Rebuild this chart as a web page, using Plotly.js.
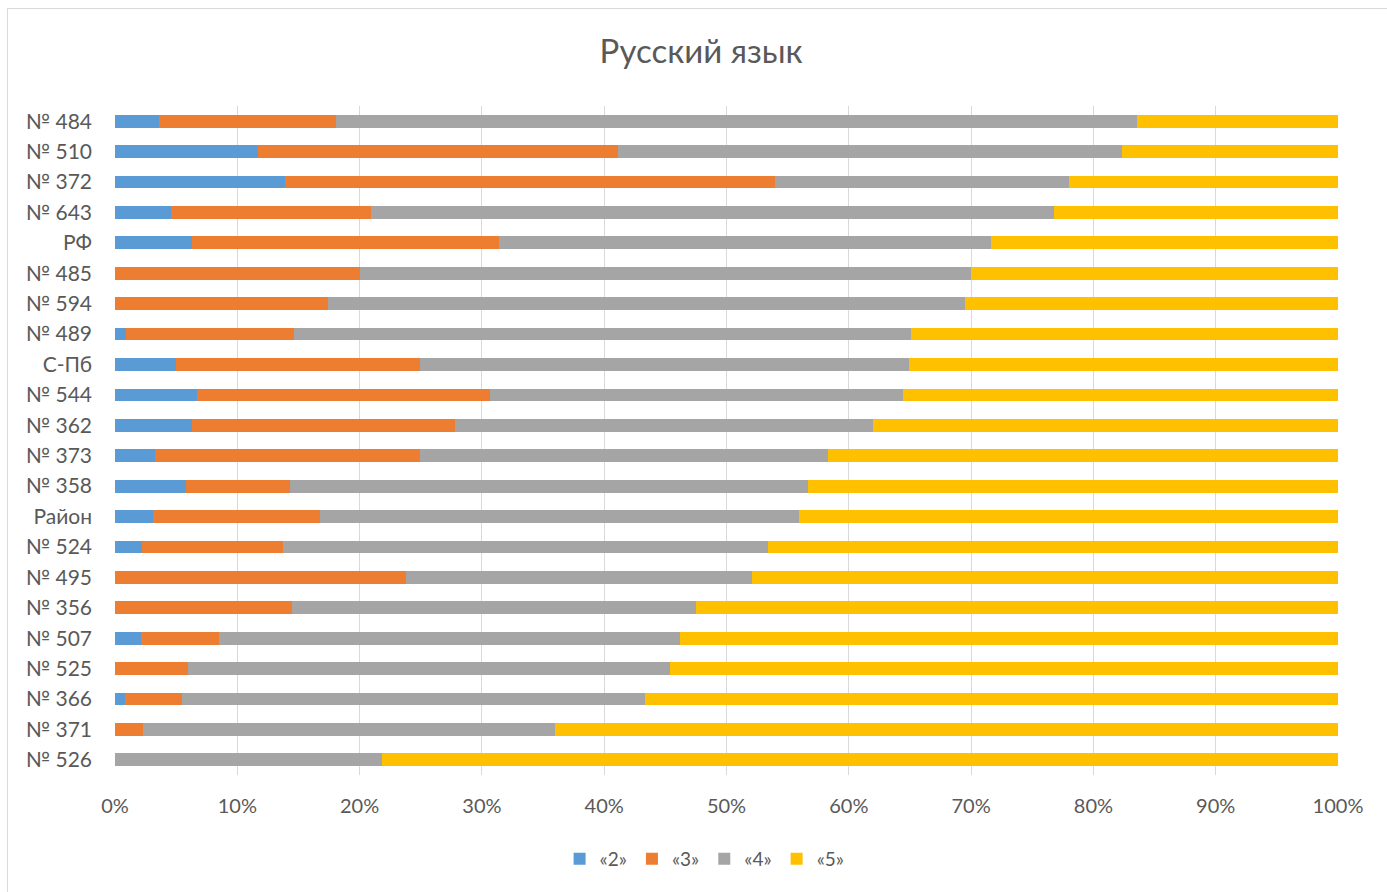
<!DOCTYPE html>
<html>
<head>
<meta charset="utf-8">
<script src="https://cdn.plot.ly/plotly-3.0.1.min.js"></script>
<style>
html,body{margin:0;padding:0;background:#fff;}
#wrap{position:relative;width:1387px;height:892px;overflow:hidden;}
#chart{position:absolute;left:0;top:0;width:1387px;height:892px;}
#frame{position:absolute;left:7px;top:8px;width:1400px;height:900px;border:1px solid #d9d9d9;box-sizing:border-box;pointer-events:none;}
</style>
</head>
<body>
<div id="wrap">
<div id="frame"></div>
<div id="chart"></div>
</div>
<script>
// Categories, top to bottom
const categories = ["№ 484","№ 510","№ 372","№ 643","РФ","№ 485","№ 594","№ 489","С-Пб","№ 544","№ 362","№ 373","№ 358","Район","№ 524","№ 495","№ 356","№ 507","№ 525","№ 366","№ 371","№ 526"];
// Shares (%) of each grade
const grade2 = [3.6, 11.7, 13.9, 4.6, 6.3, 0, 0, 0.9, 5.0, 6.7, 6.3, 3.3, 5.8, 3.1, 2.2, 0, 0, 2.1, 0, 0.8, 0, 0];
const grade3 = [14.5, 29.4, 40.1, 16.3, 25.1, 20.0, 17.4, 13.7, 19.9, 24.0, 21.5, 21.6, 8.5, 13.7, 11.5, 23.8, 14.5, 6.4, 6.0, 4.7, 2.3, 0];
const grade4 = [65.5, 41.2, 24.0, 55.9, 40.2, 50.0, 52.1, 50.5, 40.0, 33.7, 34.2, 33.4, 42.4, 39.1, 39.7, 28.3, 33.0, 37.7, 39.4, 37.8, 33.7, 21.8];
const grade5 = [16.4, 17.7, 22.0, 23.3, 28.4, 30.0, 30.5, 34.9, 35.1, 35.6, 38.0, 41.7, 43.3, 44.1, 46.6, 47.9, 52.5, 53.8, 54.6, 56.7, 64.0, 78.2];
const seriesNames = ["«2»","«3»","«4»","«5»"];
const tickVals = [0,10,20,30,40,50,60,70,80,90,100];
const tickText = ["0%","10%","20%","30%","40%","50%","60%","70%","80%","90%","100%"];

const colors = ["#5B9BD5","#ED7D31","#A5A5A5","#FFC000"];
const all = [grade2, grade3, grade4, grade5];
const traces = all.map((vals, i) => ({
  type: "bar",
  orientation: "h",
  name: seriesNames[i],
  y: categories,
  x: vals,
  marker: {color: colors[i], line: {width: 0}},
  hoverinfo: "x+y+name"
}));

const fontFam = "Lato, 'Open Sans', sans-serif";
const layout = {
  width: 1387, height: 892,
  barmode: "stack",
  bargap: 0.58,
  paper_bgcolor: "rgba(0,0,0,0)",
  plot_bgcolor: "rgba(0,0,0,0)",
  margin: {l: 115, r: 49, t: 106, b: 117},
  font: {family: fontFam, color: "#595959", size: 20},
  title: {
    text: "Русский язык",
    font: {family: fontFam, size: 33, color: "#595959"},
    x: 0.5055, xref: "container", xanchor: "center",
    y: 0.942, yref: "container", yanchor: "middle"
  },
  xaxis: {
    range: [0, 100],
    tickvals: tickVals,
    ticktext: tickText,
    showgrid: true,
    gridcolor: "#d9d9d9",
    gridwidth: 1,
    zeroline: false,
    showline: false,
    ticks: "",
    ticklabelstandoff: 17,
    tickfont: {size: 20, color: "#595959"},
    fixedrange: true
  },
  yaxis: {
    type: "category",
    autorange: "reversed",
    showgrid: false,
    zeroline: false,
    showline: false,
    ticks: "",
    ticklabelstandoff: 22,
    tickfont: {size: 21, color: "#595959"},
    fixedrange: true
  },
  showlegend: true,
  legend: {
    orientation: "h",
    xref: "container", x: 0.508, xanchor: "center",
    yref: "container", y: 0.037, yanchor: "middle",
    font: {size: 19, color: "#595959"},
    itemwidth: 30,
    traceorder: "normal"
  }
};

Plotly.newPlot("chart", traces, layout, {displayModeBar: false, staticPlot: true});
</script>
</body>
</html>
